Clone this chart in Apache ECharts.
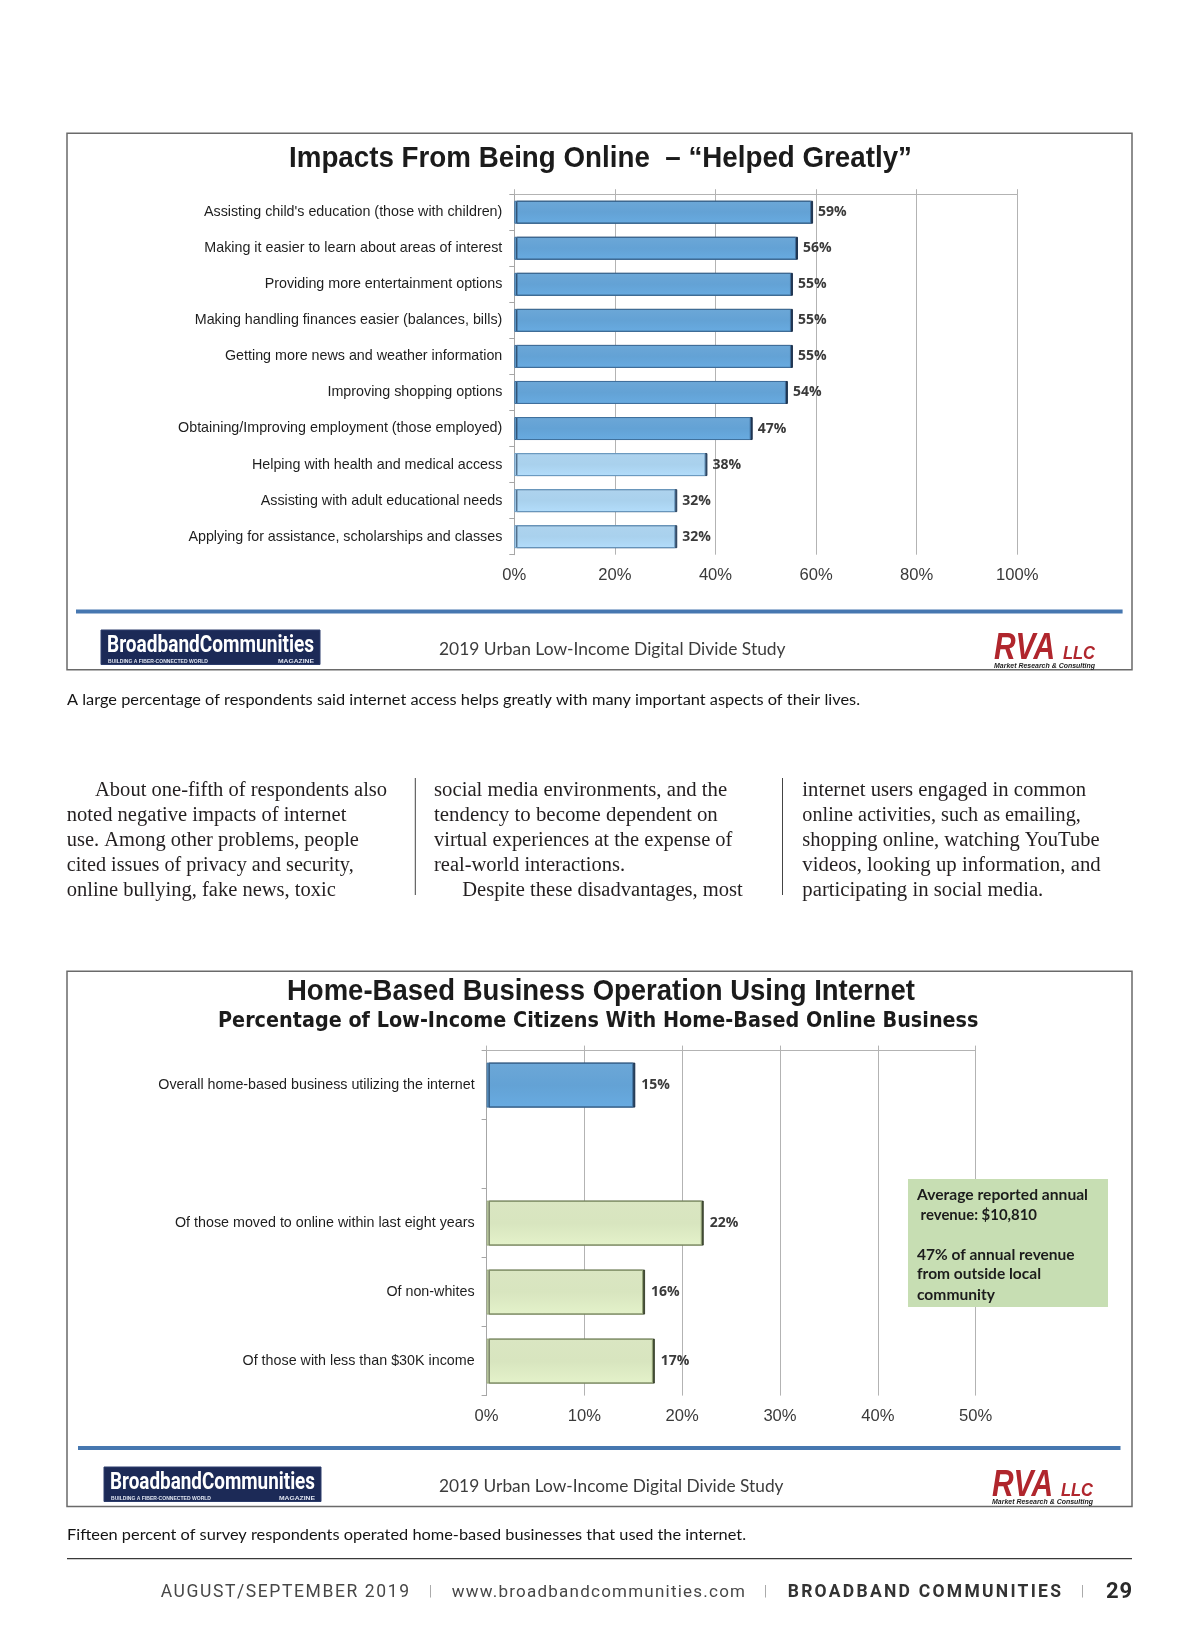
<!DOCTYPE html>
<html>
<head>
<meta charset="utf-8">
<script src="https://cdn.jsdelivr.net/npm/echarts@6.0.0/dist/echarts.min.js"></script>
<style>
  html, body { margin: 0; padding: 0; background: #ffffff; }
  #page { position: absolute; left: 0; top: 0; width: 1200px; height: 1638px; }
  .ft { position: absolute; white-space: nowrap; }
</style>
</head>
<body>
<div id="page"></div>
<script>
// ---------------- DATA ----------------
const impactTitle = 'Impacts From Being Online  \u2013 \u201cHelped Greatly\u201d';
const impactCategories = [
  "Assisting child's education (those with children)",
  "Making it easier to learn about areas of interest",
  "Providing more entertainment options",
  "Making handling finances easier (balances, bills)",
  "Getting more news and weather information",
  "Improving shopping options",
  "Obtaining/Improving employment (those employed)",
  "Helping with health and medical access",
  "Assisting with adult educational needs",
  "Applying for assistance, scholarships and classes"
];
const impactValues = [59, 56, 55, 55, 55, 54, 47, 38, 32, 32];
const impactAxisMax = 100, impactAxisStep = 20;

const businessTitle = 'Home-Based Business Operation Using Internet';
const businessSubtitle = 'Percentage of Low-Income Citizens With Home-Based Online Business';
const businessCategories = [
  "Overall home-based business utilizing the internet",
  "",
  "Of those moved to online within last eight years",
  "Of non-whites",
  "Of those with less than $30K income"
];
const businessValues = [15, null, 22, 16, 17];
const businessAxisMax = 50, businessAxisStep = 10;
const businessNote = [
  "Average reported annual",
  " revenue: $10,810",
  "",
  "47% of annual revenue",
  "from outside local",
  "community"
];

const studyName = '2019 Urban Low-Income Digital Divide Study';
const caption1 = 'A large percentage of respondents said internet access helps greatly with many important aspects of their lives.';
const caption2 = 'Fifteen percent of survey respondents operated home-based businesses that used the internet.';
const articleCol1 = ["About one-fifth of respondents also", "noted negative impacts of internet", "use. Among other problems, people", "cited issues of privacy and security,", "online bullying, fake news, toxic"];
const articleCol2 = ["social media environments, and the", "tendency to become dependent on", "virtual experiences at the expense of", "real-world interactions.", "Despite these disadvantages, most"];
const articleCol3 = ["internet users engaged in common", "online activities, such as emailing,", "shopping online, watching YouTube", "videos, looking up information, and", "participating in social media."];
const footerTexts = ['AUGUST/SEPTEMBER 2019', 'www.broadbandcommunities.com', 'BROADBAND COMMUNITIES', '29'];

// ---------------- LAYOUT / STYLE ----------------
const SANS = '"Liberation Sans", Arial, sans-serif';
const LATO = 'Lato, "Open Sans", sans-serif';
const SERIF = '"Liberation Serif", "Times New Roman", serif';
const OPEN = '"Open Sans", "Noto Sans", sans-serif';
const DEJAVU = '"DejaVu Sans", Verdana, sans-serif';
const ROBOTO = 'Roboto, "Liberation Sans", sans-serif';
const TEXT_DY = 2.7;

const mctx = document.createElement('canvas').getContext('2d');
function fontStr(o) {
  return (o.fontStyle || 'normal') + ' ' + (o.fontWeight || 'normal') + ' ' + o.fontSize + 'px ' + o.fontFamily;
}
function measure(text, o) { mctx.font = fontStr(o); return mctx.measureText(text).width; }

const graphics = [];
function addText(text, x, y, targetW, o, z) {
  const w = measure(text, o);
  const s = targetW ? targetW / w : 1;
  graphics.push({
    type: 'text', x: x, y: y + TEXT_DY, scaleX: s, scaleY: 1, z: z || 5, silent: true,
    style: {
      text: text, fontSize: o.fontSize, fontFamily: o.fontFamily,
      fontWeight: o.fontWeight || 'normal', fontStyle: o.fontStyle || 'normal',
      fill: o.fill || '#222', align: 'left', verticalAlign: 'middle',
      textAlign: 'left', textVerticalAlign: 'middle'
    }
  });
}
function addRect(x, y, w, h, style, z) {
  graphics.push({ type: 'rect', shape: { x: x, y: y, width: w, height: h }, style: style, z: z || 0, silent: true });
}
function addLine(x1, y1, x2, y2, style, z) {
  graphics.push({ type: 'line', shape: { x1: x1, y1: y1, x2: x2, y2: y2 }, style: style, z: z || 0, silent: true });
}

// chart frames
addRect(67, 133.3, 1065, 536.5, { fill: null, stroke: '#6a6a6a', lineWidth: 1.5 }, 0);
addRect(67, 971.3, 1065, 535.2, { fill: null, stroke: '#6a6a6a', lineWidth: 1.5 }, 0);

// titles
addText(impactTitle, 289, 156, 623, { fontSize: 30, fontFamily: SANS, fontWeight: 'bold', fill: '#1b1b1b' });
addText(businessTitle, 287, 989.5, 628, { fontSize: 30, fontFamily: SANS, fontWeight: 'bold', fill: '#1b1b1b' });
addText(businessSubtitle, 218, 1018.5, 760.5, { fontSize: 20.5, fontFamily: DEJAVU, fontWeight: 'bold', fill: '#1b1b1b' });

// blue separators
addLine(76, 611.4, 1122.6, 611.4, { stroke: '#4677b0', lineWidth: 4 }, 1);
addLine(78, 1448, 1120.5, 1448, { stroke: '#4677b0', lineWidth: 4 }, 1);

// logos + study name
function footerBand(logoX, logoY, logoW, logoH, studyX, studyW, studyY, rvaX, rvaY) {
  addRect(logoX, logoY, logoW, logoH, { fill: '#1c2a57', stroke: '#2c3c6c', lineWidth: 1 }, 2);
  addText('BroadbandCommunities', logoX + 6, logoY + 13.5, logoW - 12, { fontSize: 23, fontFamily: ROBOTO, fontWeight: 'bold', fill: '#ffffff' }, 3);
  addText('BUILDING A FIBER-CONNECTED WORLD', logoX + 7, logoY + 28.5, 100, { fontSize: 5, fontFamily: SANS, fontWeight: 'bold', fill: '#dfe4f0' }, 3);
  addText('MAGAZINE', logoX + logoW - 42, logoY + 28.5, 36, { fontSize: 5, fontFamily: SANS, fontWeight: 'bold', fill: '#dfe4f0' }, 3);
  addText(studyName, studyX, studyY, studyW, { fontSize: 17.5, fontFamily: LATO, fill: '#3c3c3c' });
  addText('RVA', rvaX, rvaY, 61, { fontSize: 37, fontFamily: SANS, fontWeight: 'bold', fontStyle: 'italic', fill: '#b0262d' });
  addText('LLC', rvaX + 69, rvaY + 5, 32, { fontSize: 18, fontFamily: SANS, fontWeight: 'bold', fontStyle: 'italic', fill: '#b0262d' });
  addText('Market Research & Consulting', rvaX, rvaY + 16.5, 101, { fontSize: 7, fontFamily: SANS, fontWeight: 'bold', fontStyle: 'italic', fill: '#222' });
}
footerBand(101, 630, 219, 34.5, 439, 346.6, 647, 994, 646.5);
footerBand(104, 1467, 217, 34.5, 439, 344.5, 1483.6, 992, 1483);

// note box in chart 2
addRect(908, 1179, 200, 128, { fill: '#c7deb3' }, 10);
const noteY = [1192.5, 1212.3, 0, 1252, 1271.8, 1292.6];
const noteW = [171, 120, 0, 157.6, 124, 78];
businessNote.forEach(function (t, i) {
  if (!t) return;
  addText(t, 917, noteY[i], noteW[i], { fontSize: 15, fontFamily: LATO, fontWeight: 'bold', fill: '#1c1c1c' }, 11);
});

// captions
addText(caption1, 67, 697, 793, { fontSize: 15.5, fontFamily: LATO, fill: '#141414' });
addText(caption2, 67, 1532.6, 679, { fontSize: 15.5, fontFamily: LATO, fill: '#141414' });

// article columns
const lineY = [787.7, 812.7, 837.8, 862.8, 887.9];
const col1Pos = [[95, 387.1], [66.8, 346.4], [66.8, 358.9], [66.8, 353.7], [66.8, 335.9]];
const col2Pos = [[434, 727.2], [434, 717.8], [434, 732.4], [434, 625], [462.2, 742.8]];
const col3Pos = [[802.3, 1086.1], [802.3, 1080.9], [802.3, 1099.6], [802.3, 1100.7], [802.3, 1043.3]];
[[articleCol1, col1Pos], [articleCol2, col2Pos], [articleCol3, col3Pos]].forEach(function (c) {
  c[0].forEach(function (t, i) {
    addText(t, c[1][i][0], lineY[i], c[1][i][1] - c[1][i][0], { fontSize: 20.5, fontFamily: SERIF, fill: '#231f20' });
  });
});
addLine(415.3, 778, 415.3, 895, { stroke: '#444', lineWidth: 1 });
addLine(782.5, 778, 782.5, 895, { stroke: '#444', lineWidth: 1 });

// page rule
addLine(67, 1558.7, 1132, 1558.7, { stroke: '#3a3a3a', lineWidth: 1.3 });

// ---------------- CHART ----------------
const BLUE = { fill: '#63a2d5', border: '#42729f', edge: 'rgba(22,45,75,0.95)' };
const LIGHT = { fill: '#a9d1ed', border: '#6f9fc6', edge: 'rgba(30,55,85,0.9)' };
const GREEN = { fill: '#d8e5bf', border: '#95a678', edge: 'rgba(50,60,35,0.9)' };
const HIGHLIGHT_COUNT = 7;

function barItem(v, pal) {
  return {
    value: v,
    itemStyle: {
      color: new echarts.graphic.LinearGradient(0, 0, 0, 1, [
        { offset: 0, color: echarts.color.lift(pal.fill, 0.06) },
        { offset: 0.5, color: pal.fill },
        { offset: 1, color: echarts.color.lift(pal.fill, -0.06) }
      ]),
      borderColor: pal.border, borderWidth: 1,
      shadowColor: pal.edge, shadowOffsetX: 2, shadowOffsetY: 0, shadowBlur: 0
    }
  };
}

const gridColor = '#b3b3b3';
function valueAxes(grid, max, step) {
  return [
    {
      gridIndex: grid, type: 'value', min: 0, max: max, interval: step, position: 'bottom',
      axisLine: { show: false }, axisTick: { show: false },
      axisLabel: { formatter: '{value}%', fontSize: 16.6, fontFamily: SANS, color: '#3a3a3a', margin: 12 },
      splitLine: { show: true, lineStyle: { color: gridColor, width: 1 } }
    },
    {
      gridIndex: grid, type: 'value', min: 0, max: max, interval: step, position: 'top',
      axisLine: { show: true, lineStyle: { color: gridColor, width: 1 } },
      axisTick: { show: true, length: 5, lineStyle: { color: gridColor } },
      axisLabel: { show: false }, splitLine: { show: false }
    }
  ];
}
function catAxis(grid, cats) {
  return {
    gridIndex: grid, type: 'category', data: cats, inverse: true,
    axisLine: { show: true, lineStyle: { color: '#a6a6a6', width: 1 } },
    axisTick: { show: true, length: 5, lineStyle: { color: '#a6a6a6' } },
    axisLabel: { fontSize: 14.3, fontFamily: SANS, color: '#1e1e1e', margin: 12, padding: [2, 0, 0, 0] }
  };
}

const chart = echarts.init(document.getElementById('page'), null, { renderer: 'canvas', width: 1200, height: 1638 });
chart.setOption({
  animation: false,
  backgroundColor: '#ffffff',
  grid: [
    { left: 514.3, top: 194.2, width: 503, height: 360.5 },
    { left: 486.6, top: 1050.6, width: 489, height: 345 }
  ],
  xAxis: valueAxes(0, impactAxisMax, impactAxisStep).concat(valueAxes(1, businessAxisMax, businessAxisStep)),
  yAxis: [catAxis(0, impactCategories), catAxis(1, businessCategories)],
  series: [
    {
      type: 'bar', xAxisIndex: 0, yAxisIndex: 0, barWidth: 23,
      data: impactValues.map(function (v, i) { return barItem(v, i < HIGHLIGHT_COUNT ? BLUE : LIGHT); }),
      label: { show: true, position: 'right', distance: 7, formatter: '{c}%', fontFamily: OPEN, fontWeight: 'bold', fontSize: 14, color: '#3a3a3a', padding: [2, 0, 0, 0] },
      z: 3
    },
    {
      type: 'bar', xAxisIndex: 2, yAxisIndex: 1, barWidth: 45,
      data: businessValues.map(function (v, i) { return v == null ? null : barItem(v, i === 0 ? BLUE : GREEN); }),
      label: { show: true, position: 'right', distance: 8, formatter: '{c}%', fontFamily: OPEN, fontWeight: 'bold', fontSize: 14, color: '#3a3a3a', padding: [2, 0, 0, 0] },
      z: 3
    }
  ],
  graphic: { elements: graphics }
});

// ---------------- FOOTER (letter-spaced text) ----------------
const footerLayout = [
  { text: footerTexts[0], x1: 160.7, x2: 409, o: { fontSize: 17.5, fontFamily: ROBOTO, fontWeight: '400' }, color: '#474747' },
  { text: '|', x1: 429, o: { fontSize: 14, fontFamily: ROBOTO, fontWeight: '300' }, color: '#8a8a8a' },
  { text: footerTexts[1], x1: 451.8, x2: 745, o: { fontSize: 17, fontFamily: ROBOTO, fontWeight: '400' }, color: '#474747' },
  { text: '|', x1: 764, o: { fontSize: 14, fontFamily: ROBOTO, fontWeight: '300' }, color: '#8a8a8a' },
  { text: footerTexts[2], x1: 787.7, x2: 1061, o: { fontSize: 17.5, fontFamily: ROBOTO, fontWeight: 'bold' }, color: '#333333' },
  { text: '|', x1: 1081, o: { fontSize: 14, fontFamily: ROBOTO, fontWeight: '300' }, color: '#8a8a8a' },
  { text: footerTexts[3], x1: 1106, x2: 1132, o: { fontSize: 22, fontFamily: ROBOTO, fontWeight: 'bold' }, color: '#2a2a2a' }
];
const footerY = 1591;
footerLayout.forEach(function (f) {
  const el = document.createElement('div');
  el.className = 'ft';
  el.textContent = f.text;
  el.style.font = fontStr(f.o);
  el.style.color = f.color;
  const lh = 26;
  el.style.lineHeight = lh + 'px';
  el.style.left = f.x1 + 'px';
  el.style.top = (footerY - lh / 2) + 'px';
  if (f.x2 && f.text.length > 1) {
    const nat = measure(f.text, f.o);
    const ls = (f.x2 - f.x1 - nat) / (f.text.length - 1);
    el.style.letterSpacing = ls + 'px';
  }
  document.body.appendChild(el);
});
</script>
</body>
</html>
